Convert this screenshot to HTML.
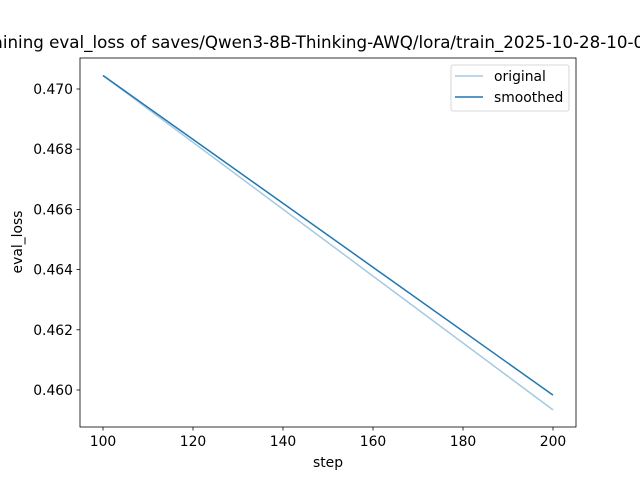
<!DOCTYPE html>
<html><head><meta charset="utf-8"><style>
body{margin:0;background:#fff}
svg{font-family:"DejaVu Sans","Liberation Sans",sans-serif;display:block}
</style></head><body>
<svg id="chart" width="640" height="480">
<rect width="640" height="480" fill="#fff"/>
<text x="330" y="48" font-size="16.7" text-anchor="middle">Training eval_loss of saves/Qwen3-8B-Thinking-AWQ/lora/train_2025-10-28-10-00-00</text>
<g id="axes"></g>
<rect x="80" y="58" width="496" height="369" fill="none" stroke="#000" stroke-width="0.8"/>
<text x="328" y="467" font-size="13.9" text-anchor="middle">step</text>
<text transform="translate(22,242) rotate(-90)" font-size="13.9" text-anchor="middle">eval_loss</text>
<g>
<rect x="451" y="65" width="118" height="46" rx="2" fill="#fff" fill-opacity="0.8" stroke="#ccc" stroke-width="0.8"/>
<line x1="455" y1="76" x2="483" y2="76" stroke="#1f77b4" stroke-opacity="0.4" stroke-width="1.5"/>
<text x="494" y="81" font-size="13.9">original</text>
<line x1="455" y1="97" x2="483" y2="97" stroke="#1f77b4" stroke-width="1.5"/>
<text x="494" y="102" font-size="13.9">smoothed</text>
</g>
</svg>
<script>
const steps=[100,200];
const original=[0.47045,0.45934];
const smoothed=[0.47045,0.45983];
const xTicks=[100,120,140,160,180,200];
const yTicks=[0.460,0.462,0.464,0.466,0.468,0.470];
const NS="http://www.w3.org/2000/svg";
const X=v=>103+(v-100)*4.5;
const Y=v=>89-(v-0.470)*30100;
const g=document.getElementById('axes');
function mk(t,a){const e=document.createElementNS(NS,t);for(const k in a)e.setAttribute(k,a[k]);g.appendChild(e);return e;}
xTicks.forEach(v=>{
 const l=mk('line',{x1:X(v),x2:X(v),y1:427,y2:430.5,stroke:'#000','stroke-width':0.8});
 
 
 const t=mk('text',{x:X(v),y:446,'font-size':13.9,'text-anchor':'middle'});t.textContent=v;
 
 
});
yTicks.forEach(v=>{
 const l=mk('line',{x1:76.5,x2:80,y1:Y(v),y2:Y(v),stroke:'#000','stroke-width':0.8});
 
 
 const t=mk('text',{x:73,y:Y(v)+5,'font-size':13.9,'text-anchor':'end'});t.textContent=v.toFixed(3);
 
 
});
const p1=mk('polyline',{points:steps.map((s,i)=>X(s)+','+Y(original[i])).join(' '),fill:'none',stroke:'#1f77b4','stroke-opacity':0.4,'stroke-width':1.5});


const p2=mk('polyline',{points:steps.map((s,i)=>X(s)+','+Y(smoothed[i])).join(' '),fill:'none',stroke:'#1f77b4','stroke-width':1.5});


</script>
</body></html>
